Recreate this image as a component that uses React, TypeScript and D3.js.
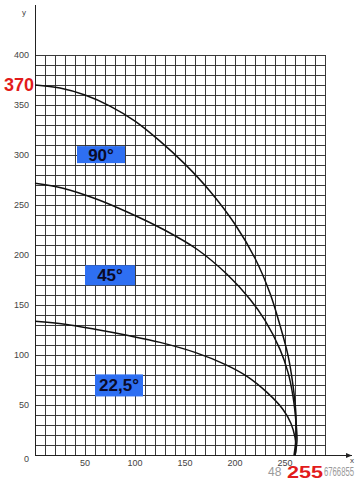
import React from "react";
import * as d3 from "d3";

const xTicks = [50, 100, 150, 200, 250];
const yTicks = [50, 100, 150, 200, 250, 300, 350, 400];

const curve90: [number, number][] = [
  [0, 370], [25, 367], [50, 360], [75, 349], [100, 334], [125, 314], [150, 291],
  [175, 264], [200, 231], [220, 197], [235, 162], [245, 130], [253, 100],
  [258, 70], [261, 40], [261, 18], [259, 0],
];
const curve45: [number, number][] = [
  [0, 272], [28, 267], [62, 256], [95, 242], [128, 226], [162, 206], [192, 181],
  [215, 156], [230, 135], [245, 106], [253, 83], [258, 59], [261, 33], [262, 15], [260, 0],
];
const curve22: [number, number][] = [
  [0, 134], [30, 131], [60, 126], [92, 120], [125, 113], [160, 103], [190, 91],
  [212, 79], [232, 63], [248, 46], [256, 32], [260, 18], [261, 7], [260, 0],
];

const labels = [
  { text: "90°", x0: 42, x1: 90, y0: 309, y1: 292 },
  { text: "45°", x0: 50, x1: 100, y0: 190, y1: 170 },
  { text: "22,5°", x0: 60, x1: 108, y0: 81, y1: 59 },
];

export default function App() {
  const W = 359, H = 480;
  const x = d3.scaleLinear().domain([0, 290]).range([35, 325]);
  const y = d3.scaleLinear().domain([0, 400]).range([455.5, 55]);
  const line = d3
    .line<[number, number]>()
    .x((d) => x(d[0]))
    .y((d) => y(d[1]))
    .curve(d3.curveCatmullRom.alpha(0.5));

  const vLines = d3.range(0, 291, 10);
  const hLines = d3.range(0, 401, 10);
  const font = "Liberation Sans, Arial, sans-serif";

  return (
    <svg width={W} height={H} style={{ position: "absolute", left: 0, top: 0, background: "#fff" }}>
      <g stroke="#3a3a3a" strokeWidth={1} shapeRendering="crispEdges">
        {vLines.map((v) => (
          <line key={"v" + v} x1={x(v)} x2={x(v)} y1={y(0)} y2={y(400)} />
        ))}
        {hLines.map((v) => (
          <line key={"h" + v} x1={x(0)} x2={x(290)} y1={y(v)} y2={y(v)} />
        ))}
      </g>
      <line x1={x(0)} x2={x(0)} y1={y(0)} y2={5} stroke="#222" strokeWidth={1} shapeRendering="crispEdges" />
      <line x1={x(0)} x2={352} y1={y(0)} y2={y(0)} stroke="#222" strokeWidth={1} shapeRendering="crispEdges" />
      <path d={`M352,${y(0)} l-6,-2.5 l0,5 z`} fill="#222" />
      <text x={22} y={15} fontSize={8} fontFamily={font} fill="#444">y</text>

      {yTicks.map((t) => (
        <text key={"yt" + t} x={29} y={y(t) + 3} textAnchor="end" fontSize={9} fontFamily={font} fill="#444">
          {t}
        </text>
      ))}
      <text x={29} y={y(0) + 6} textAnchor="end" fontSize={9} fontFamily={font} fill="#444">0</text>
      {xTicks.map((t) => (
        <text key={"xt" + t} x={x(t)} y={y(0) + 10} textAnchor="middle" fontSize={9} fontFamily={font} fill="#444">
          {t}
        </text>
      ))}

      {[curve90, curve45, curve22].map((c, i) => (
        <path key={"c" + i} d={line(c) || ""} fill="none" stroke="#111" strokeWidth={1.5} />
      ))}

      {labels.map((l) => (
        <g key={l.text}>
          <rect x={x(l.x0)} y={y(l.y0)} width={x(l.x1) - x(l.x0)} height={y(l.y1) - y(l.y0)} fill="#2e6ff2" />
          <text
            x={(x(l.x0) + x(l.x1)) / 2}
            y={(y(l.y0) + y(l.y1)) / 2 + 6}
            textAnchor="middle"
            fontSize={17}
            fontWeight="bold"
            fontFamily={font}
            fill="#0a0a28"
          >
            {l.text}
          </text>
        </g>
      ))}

      <text x={4} y={y(370) + 6} fontSize={18} fontWeight="bold" fontFamily={font} fill="#e21b1b">370</text>

      <text x={268} y={476} fontSize={12} fontFamily={font} fill="#9a9a9a">48</text>
      <text x={287} y={478} fontSize={16} fontWeight="bold" fontFamily={font} fill="#e21b1b" textLength={36} lengthAdjust="spacingAndGlyphs">255</text>
      <text x={324} y={476} fontSize={12} fontFamily={font} fill="#9a9a9a" textLength={30} lengthAdjust="spacingAndGlyphs">6766855</text>
      <text x={350} y={463} fontSize={8} fontFamily={font} fill="#444">x</text>
    </svg>
  );
}
